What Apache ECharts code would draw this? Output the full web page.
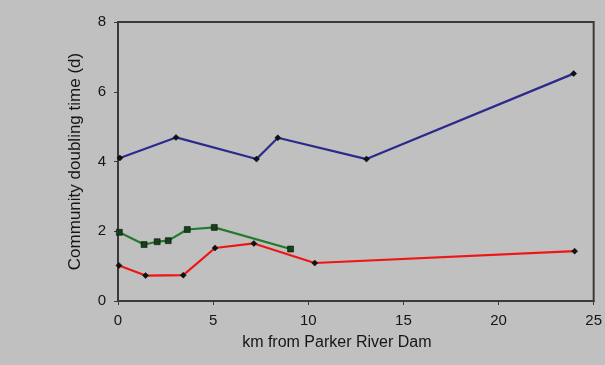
<!DOCTYPE html>
<html><head><meta charset="utf-8">
<script src="https://cdn.jsdelivr.net/npm/echarts@6/dist/echarts.min.js"></script>
<style>html,body{margin:0;padding:0;background:#c0c0c0;}#c{width:605px;height:365px;}</style>
</head><body><div id="c"></div>
<script>
const blueKm = [0.1, 3.05, 7.28, 8.4, 13.06, 23.95];
const blueVal = [4.10, 4.69, 4.07, 4.68, 4.07, 6.52];
const greenKm = [0.07, 1.37, 2.06, 2.64, 3.64, 5.06, 9.07];
const greenVal = [1.97, 1.62, 1.70, 1.73, 2.05, 2.11, 1.49];
const redKm = [0.05, 1.45, 3.43, 5.1, 7.14, 10.34, 24.0];
const redVal = [1.02, 0.73, 0.74, 1.52, 1.65, 1.09, 1.43];
const xTicks = [0, 5, 10, 15, 20, 25];
const yTicks = [0, 2, 4, 6, 8];
const xTitle = 'km from Parker River Dam';
const yTitle = 'Community doubling time (d)';

const zip = (a, b) => a.map((v, i) => [v, b[i]]);
const chart = echarts.init(document.getElementById('c'));
const font = 'Liberation Sans, Arial, sans-serif';
const mkSeries = (data, color, symbol, size, fill) => ({
  type: 'line', data, symbol, symbolSize: size,
  lineStyle: { color, width: 2.2 },
  itemStyle: { color: fill, borderColor: '#000', borderWidth: 0.5 },
  animation: false
});
chart.setOption({
  backgroundColor: '#c0c0c0',
  animation: false,
  grid: { left: 118, right: 10, top: 22, bottom: 64, show: true, borderColor: '#3a3a3a', borderWidth: 2, backgroundColor: 'transparent' },
  xAxis: {
    type: 'value', min: 0, max: 25, interval: 5,
    name: xTitle, nameLocation: 'middle', nameGap: 34,
    nameTextStyle: { fontFamily: font, fontSize: 16, color: '#151515', padding: [0, 38, 0, 0] },
    axisLine: { show: true, lineStyle: { color: '#3a3a3a', width: 2 } },
    axisTick: { show: true, length: 4, lineStyle: { color: '#3a3a3a' } },
    axisLabel: { fontFamily: font, fontSize: 15, color: '#151515', margin: 12, formatter: v => xTicks.includes(v) ? String(v) : '' },
    splitLine: { show: false }
  },
  yAxis: {
    type: 'value', min: 0, max: 8, interval: 2,
    name: yTitle, nameLocation: 'middle', nameGap: 34, nameRotate: 90,
    nameTextStyle: { fontFamily: font, fontSize: 17, color: '#151515' },
    axisLine: { show: true, lineStyle: { color: '#3a3a3a', width: 2 } },
    axisTick: { show: true, length: 4, lineStyle: { color: '#3a3a3a' } },
    axisLabel: { fontFamily: font, fontSize: 15, color: '#151515', margin: 12, formatter: v => yTicks.includes(v) ? String(v) : '' },
    splitLine: { show: false }
  },
  series: [
    mkSeries(zip(blueKm, blueVal), '#2b2a8c', 'diamond', 6, '#111'),
    mkSeries(zip(greenKm, greenVal), '#237a2e', 'rect', 6, '#14401a'),
    mkSeries(zip(redKm, redVal), '#ee1515', 'diamond', 6, '#111')
  ]
});
</script></body></html>
